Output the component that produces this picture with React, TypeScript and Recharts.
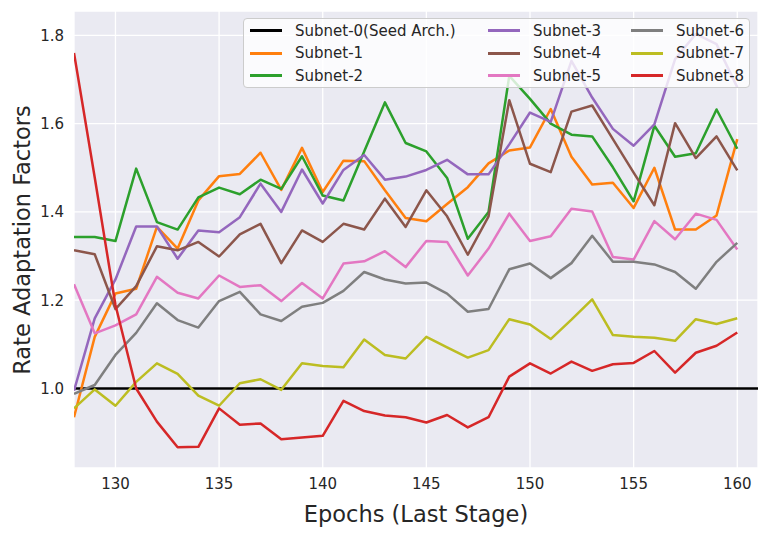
import React from 'react';
import { LineChart, Line, XAxis, YAxis, CartesianGrid, ReferenceLine, Label } from 'recharts';

// Epochs of the last training stage
const epochs = [
  128, 129, 130, 131, 132, 133, 134, 135, 136, 137, 138, 139, 140, 141, 142, 143, 144,
  145, 146, 147, 148, 149, 150, 151, 152, 153, 154, 155, 156, 157, 158, 159, 160,
];

// Seed architecture stays at 1.0
const seedValue = 1.0;

const subnet1 = [
  0.935, 1.117, 1.215, 1.226, 1.366, 1.317, 1.426, 1.481, 1.486, 1.534, 1.45, 1.545, 1.445, 1.516, 1.515, 1.449, 1.386,
  1.379, 1.418, 1.456, 1.51, 1.539, 1.546, 1.633, 1.525, 1.462, 1.466, 1.409, 1.5, 1.36, 1.36, 1.392, 1.565,
];
const subnet2 = [
  1.343, 1.343, 1.334, 1.498, 1.377, 1.36, 1.433, 1.455, 1.44, 1.473, 1.452, 1.526, 1.437, 1.426, 1.537, 1.648, 1.556,
  1.537, 1.477, 1.339, 1.4, 1.708, 1.656, 1.6, 1.575, 1.571, 1.501, 1.424, 1.595, 1.525, 1.533, 1.632, 1.543,
];
const subnet3 = [
  0.995, 1.159, 1.247, 1.367, 1.367, 1.294, 1.358, 1.354, 1.388, 1.464, 1.4, 1.496, 1.419, 1.495, 1.529, 1.473, 1.48,
  1.495, 1.518, 1.485, 1.485, 1.553, 1.625, 1.604, 1.742, 1.659, 1.588, 1.55, 1.598, 1.746, 1.803, 1.78, 1.682,
];
const subnet4 = [
  1.313, 1.304, 1.18, 1.232, 1.322, 1.313, 1.332, 1.299, 1.349, 1.373, 1.284, 1.358, 1.332, 1.373, 1.36, 1.43, 1.366,
  1.449, 1.39, 1.303, 1.39, 1.653, 1.509, 1.49, 1.627, 1.641, 1.565, 1.489, 1.415, 1.601, 1.522, 1.571, 1.494,
];
const subnet5 = [
  1.236, 1.125, 1.143, 1.168, 1.253, 1.217, 1.204, 1.256, 1.23, 1.234, 1.198, 1.239, 1.204, 1.283, 1.288, 1.311, 1.275,
  1.334, 1.332, 1.256, 1.317, 1.396, 1.334, 1.345, 1.407, 1.401, 1.298, 1.292, 1.379, 1.338, 1.396, 1.382, 1.315,
];
const subnet6 = [
  0.988, 1.008, 1.076, 1.126, 1.193, 1.155, 1.138, 1.198, 1.219, 1.168, 1.153, 1.185, 1.194, 1.221, 1.264, 1.247, 1.238,
  1.24, 1.215, 1.174, 1.18, 1.27, 1.283, 1.25, 1.284, 1.346, 1.287, 1.287, 1.281, 1.264, 1.226, 1.287, 1.33,
];
const subnet7 = [
  0.955, 0.998, 0.961, 1.015, 1.057, 1.033, 0.984, 0.961, 1.012, 1.021, 0.997, 1.057, 1.051, 1.048, 1.111, 1.076, 1.068,
  1.117, 1.093, 1.07, 1.087, 1.157, 1.145, 1.112, 1.156, 1.202, 1.121, 1.117, 1.115, 1.108, 1.157, 1.146, 1.159,
];
const subnet8 = [
  1.76, 1.478, 1.189, 1.0, 0.925, 0.867, 0.868, 0.955, 0.918, 0.921, 0.885, 0.889, 0.893, 0.972, 0.949, 0.939, 0.935,
  0.923, 0.94, 0.912, 0.935, 1.027, 1.057, 1.034, 1.061, 1.04, 1.055, 1.058, 1.085, 1.036, 1.081, 1.097, 1.127,
];

const xTicks = [130, 135, 140, 145, 150, 155, 160];
const yTicks = [1.0, 1.2, 1.4, 1.6, 1.8];

const series = [
  { key: 's0', name: 'Subnet-0(Seed Arch.)', color: '#000000' },
  { key: 's1', name: 'Subnet-1', color: '#ff7f0e', values: subnet1 },
  { key: 's2', name: 'Subnet-2', color: '#2ca02c', values: subnet2 },
  { key: 's3', name: 'Subnet-3', color: '#9467bd', values: subnet3 },
  { key: 's4', name: 'Subnet-4', color: '#8c564b', values: subnet4 },
  { key: 's5', name: 'Subnet-5', color: '#e377c2', values: subnet5 },
  { key: 's6', name: 'Subnet-6', color: '#7f7f7f', values: subnet6 },
  { key: 's7', name: 'Subnet-7', color: '#bcbd22', values: subnet7 },
  { key: 's8', name: 'Subnet-8', color: '#d62728', values: subnet8 },
];

const data = epochs.map((epoch, i) => {
  const row: Record<string, number> = { epoch };
  series.forEach(s => {
    if (s.values) row[s.key] = s.values[i];
  });
  return row;
});

const FONT = '"DejaVu Sans", sans-serif';
const TEXT = '#262626';

// legend grid: column-major, 3 rows
const legendCols = [7, 245, 388];
const legendRows = [12.7, 35, 57.7];

const Legend3 = () => (
  <div
    style={{
      position: 'absolute',
      left: 243,
      top: 18,
      width: 507,
      height: 70,
      boxSizing: 'border-box',
      background: 'rgba(255,255,255,0.8)',
      border: '1px solid #cccccc',
      borderRadius: 4,
      fontFamily: FONT,
      fontSize: 15,
      color: TEXT,
    }}
  >
    {series.map((s, i) => {
      const col = Math.floor(i / 3);
      const row = i % 3;
      return (
        <div
          key={s.key}
          style={{
            position: 'absolute',
            left: legendCols[col] - 1,
            top: legendRows[row] - 1 - 10,
            height: 20,
            display: 'flex',
            alignItems: 'center',
            whiteSpace: 'nowrap',
          }}
        >
          <span style={{ display: 'inline-block', width: 32, height: 3, background: s.color, marginRight: 13 }} />
          <span>{s.name}</span>
        </div>
      );
    })}
  </div>
);

const App: React.FC = () => {
  return (
    <div style={{ position: 'absolute', left: 0, top: 0, width: 769, height: 533, background: '#fff' }}>
      <LineChart width={769} height={533} data={data} margin={{ top: 11, right: 11, left: 0, bottom: 0 }}>
        <CartesianGrid fill="#EAEAF2" stroke="#ffffff" strokeWidth={1.3} />
        <XAxis
          dataKey="epoch"
          type="number"
          domain={[128, 161]}
          ticks={xTicks}
          allowDataOverflow
          height={65}
          axisLine={false}
          tickLine={false}
          tickSize={0}
          tickMargin={10}
          tick={{ fontSize: 15, fill: TEXT, fontFamily: FONT }}
        >
          <Label
            content={() => (
              <text x={416} y={521.5} textAnchor="middle" fontSize={22.5} fill={TEXT} fontFamily={FONT}>
                Epochs (Last Stage)
              </text>
            )}
          />
        </XAxis>
        <YAxis
          type="number"
          domain={[0.82, 1.855]}
          ticks={yTicks}
          allowDataOverflow
          width={74}
          axisLine={false}
          tickLine={false}
          tickSize={0}
          tickMargin={10}
          tickFormatter={(v: number) => v.toFixed(1)}
          tick={{ fontSize: 15, fill: TEXT, fontFamily: FONT }}
        >
          <Label
            content={() => (
              <text
                x={30}
                y={240}
                transform="rotate(-90, 30, 240)"
                textAnchor="middle"
                fontSize={22.5}
                fill={TEXT}
                fontFamily={FONT}
              >
                Rate Adaptation Factors
              </text>
            )}
          />
        </YAxis>
        <ReferenceLine y={seedValue} stroke="#000000" strokeWidth={2.5} />
        {series
          .filter(s => s.values)
          .map(s => (
            <Line
              key={s.key}
              type="linear"
              dataKey={s.key}
              name={s.name}
              stroke={s.color}
              strokeWidth={2.5}
              strokeLinejoin="round"
              dot={false}
              activeDot={false}
              isAnimationActive={false}
            />
          ))}
      </LineChart>
      <Legend3 />
    </div>
  );
};

export default App;
